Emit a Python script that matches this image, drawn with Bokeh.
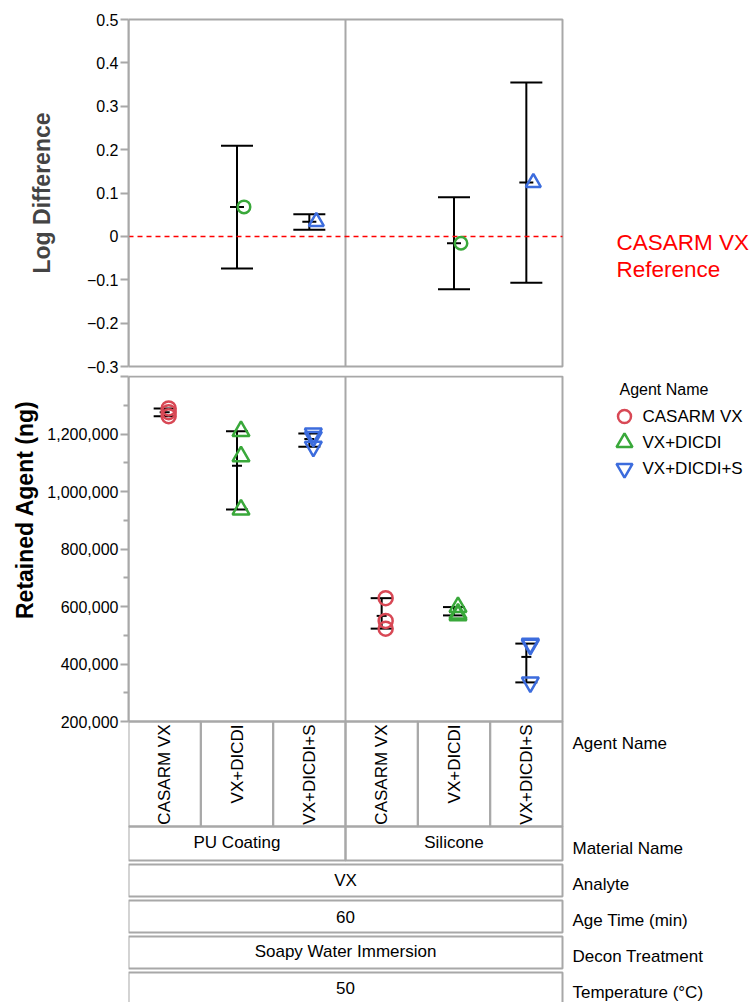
import math
import pandas as pd
from bokeh.plotting import figure
from bokeh.models import (Range1d, FixedTicker, NumeralTickFormatter, Title,
                          ColumnDataSource, Whisker, TeeHead)
from bokeh.layouts import column
from bokeh.embed import file_html
from bokeh.resources import INLINE
from bokeh.core.properties import value

# ---------------- data ----------------
materials = ["PU Coating", "Silicone"]
agents = ["CASARM VX", "VX+DICDI", "VX+DICDI+S"]
agent_colors = ["#D84855", "#39A83A", "#3C6CDD"]
agent_markers = ["circle", "triangle", "inverted_triangle"]

# top panel: log difference relative to the CASARM VX reference
ld_material = ["PU Coating", "PU Coating", "Silicone", "Silicone"]
ld_agent = ["VX+DICDI", "VX+DICDI+S", "VX+DICDI", "VX+DICDI+S"]
ld_value = [0.068, 0.034, -0.016, 0.124]
ld_lower = [-0.074, 0.015, -0.122, -0.107]
ld_upper = [0.209, 0.051, 0.090, 0.355]
ld_colors = ["#39A83A", "#3C6CDD", "#39A83A", "#3C6CDD"]
ld_markers = ["circle", "triangle", "circle", "triangle"]
ld_ticks = [-0.3, -0.2, -0.1, 0, 0.1, 0.2, 0.3, 0.4, 0.5]
reference_text = ["CASARM VX", "Reference"]

# bottom panel: retained agent (ng), three replicates per group
ra_material = ["PU Coating"] * 9 + ["Silicone"] * 9
ra_agent = (["CASARM VX"] * 3 + ["VX+DICDI"] * 3 + ["VX+DICDI+S"] * 3) * 2
ra_value = [1289000, 1276000, 1262000,
            1210000, 1122000, 937000,
            1202000, 1190000, 1156000,
            629000, 550000, 523000,
            598000, 575000, 569000,
            471000, 467000, 336000]
ra_ticks = [200000, 400000, 600000, 800000, 1000000, 1200000, 1400000]
ra_minor = [300000, 500000, 700000, 900000, 1100000, 1300000]

# header rows below the chart
row_names = ["Agent Name", "Material Name", "Analyte", "Age Time (min)",
             "Decon Treatment", "Temperature (°C)"]
analyte = ["VX"]
age_time = ["60"]
decon_treatment = ["Soapy Water Immersion"]
temperature = ["50"]

# ---------------- layout helpers ----------------
FONT = "Liberation Sans"
GRAY = "#a8a8a8"
W = 754
FL = 128                 # frame left (page x 128)
FW = 434                 # width of the data panels
NCAT = len(materials) * len(agents)
NAG = len(agents)
UNIT = FW / NCAT


def fx(page_x):
    return (page_x - FL) / UNIT


def y1(page_y):          # top figure: 0.5 at page y 19, -0.3 at page y 366
    return 0.5 - (page_y - 19) * 0.8 / 347


def y2(page_y):          # bottom figure: 1.4M at page y 376, 200k at page y 721
    return 1.4e6 - (page_y - 376) * 1.2e6 / 345


def pos(m, a):
    return materials.index(m) * NAG + agents.index(a) + 0.5


def style_yaxis(ax):
    ax.axis_line_color = GRAY
    ax.axis_line_width = 2
    ax.major_tick_line_color = GRAY
    ax.major_tick_line_width = 2
    ax.minor_tick_line_color = GRAY
    ax.minor_tick_line_width = 2
    ax.major_tick_out = 8
    ax.major_tick_in = 0
    ax.minor_tick_out = 5
    ax.minor_tick_in = 0
    ax.major_label_standoff = 2
    ax.major_label_text_font = FONT
    ax.major_label_text_font_size = "16px"
    ax.major_label_text_color = "black"


# ---------------- top figure ----------------
H1 = 375
p1 = figure(width=W, height=H1, x_range=Range1d(0, fx(W)),
            y_range=Range1d(y1(368), y1(17)),
            output_backend="svg", toolbar_location=None, x_axis_location=None,
            min_border_left=FL, min_border_right=0,
            min_border_top=17, min_border_bottom=H1 - 368)
p1.grid.visible = False
p1.outline_line_color = None
ax1 = p1.yaxis[0]
style_yaxis(ax1)
ax1.bounds = (ld_ticks[0], ld_ticks[-1])
ax1.ticker = FixedTicker(ticks=ld_ticks, minor_ticks=[])
ax1.major_label_overrides = {0: "0"}
ax1.axis_label = "Log Difference"
ax1.axis_label_text_font = FONT
ax1.axis_label_text_font_style = "bold"
ax1.axis_label_text_font_size = "23px"
ax1.axis_label_standoff = 29

# panel box, divider and reference line
p1.quad(left=[0], right=[NCAT], bottom=[ld_ticks[0]], top=[ld_ticks[-1]],
        fill_color=None, line_color=GRAY, line_width=2)
p1.segment(x0=[NAG], x1=[NAG], y0=[ld_ticks[0]], y1=[ld_ticks[-1]],
           line_color=GRAY, line_width=2)
p1.segment(x0=[0], x1=[NCAT], y0=[0], y1=[0], line_color="red", line_width=1.5,
           line_dash="5 4")

ld_x = [pos(m, a) for m, a in zip(ld_material, ld_agent)]
src1 = ColumnDataSource(dict(
    x=ld_x, xm=[x + 7 / UNIT for x in ld_x], v=ld_value, lo=ld_lower, hi=ld_upper,
    color=ld_colors, marker=ld_markers,
    size=[12.5 if mk == "circle" else 15 for mk in ld_markers]))
p1.add_layout(Whisker(source=src1, base="x", lower="lo", upper="hi",
                      line_color="black", line_width=2,
                      upper_head=TeeHead(size=32, line_color="black", line_width=2),
                      lower_head=TeeHead(size=32, line_color="black", line_width=2)))
p1.scatter(x="x", y="v", source=src1, marker="dash", size=14,
           line_color="black", line_width=2)
p1.scatter(x="xm", y="v", source=src1, marker="marker", size="size",
           line_color="color", fill_color=None, line_width=2.5)

p1.text(x=[fx(616)] * 2, y=[y1(241.5), y1(268.5)], text=reference_text,
        text_color="red", text_font=value(FONT), text_font_size="22.5px",
        text_baseline="alphabetic")

# ---------------- bottom figure (panel + header rows) ----------------
H2 = 1002 - H1   # page y 375 .. 1002
p2 = figure(width=W, height=H2, x_range=Range1d(0, fx(W)),
            y_range=Range1d(y2(1002), y2(H1)),
            output_backend="svg", toolbar_location=None, x_axis_location=None,
            min_border_left=FL, min_border_right=0, min_border_top=0, min_border_bottom=0)
p2.grid.visible = False
p2.outline_line_color = None
ax2 = p2.yaxis[0]
style_yaxis(ax2)
ax2.bounds = (ra_ticks[0], ra_ticks[-1])
ax2.ticker = FixedTicker(ticks=ra_ticks, minor_ticks=ra_minor)
ax2.formatter = NumeralTickFormatter(format="0,0")
ax2.major_label_overrides = {ra_ticks[-1]: ""}
p2.add_layout(Title(text="Retained Agent (ng)", align="right", offset=25, standoff=14,
                    text_font=FONT, text_font_style="bold", text_font_size="23px",
                    text_color="black"), "left")

# plot box and panel divider
p2.quad(left=[0], right=[NCAT], bottom=[ra_ticks[0]], top=[ra_ticks[-1]],
        fill_color=None, line_color=GRAY, line_width=2)
p2.segment(x0=[NAG], x1=[NAG], y0=[ra_ticks[0]], y1=[ra_ticks[-1]],
           line_color=GRAY, line_width=2)

df = pd.DataFrame(dict(material=ra_material, agent=ra_agent, v=ra_value))
df["x"] = [pos(m, a) for m, a in zip(df.material, df.agent)]
df["xm"] = df["x"] + 4 / UNIT
df["color"] = [agent_colors[agents.index(a)] for a in df.agent]
df["marker"] = [agent_markers[agents.index(a)] for a in df.agent]
df["size"] = [14 if mk == "circle" else 17 for mk in df.marker]
stats = df.groupby(["material", "agent"], sort=False)["v"].agg(["min", "max", "mean"]).reset_index()
stats["x"] = [pos(m, a) for m, a in zip(stats.material, stats.agent)]
src2s = ColumnDataSource(stats)
p2.add_layout(Whisker(source=src2s, base="x", lower="min", upper="max",
                      line_color="black", line_width=2,
                      upper_head=TeeHead(size=22, line_color="black", line_width=2),
                      lower_head=TeeHead(size=22, line_color="black", line_width=2)))
p2.scatter(x="x", y="mean", source=src2s, marker="dash", size=10,
           line_color="black", line_width=2)
p2.scatter(x="xm", y="v", source=ColumnDataSource(df), marker="marker", size="size",
           line_color="color", fill_color=None, line_width=2.5)

# legend
leg_y = [416, 442, 468]
p2.text(x=[fx(619)], y=[y2(389)], text=["Agent Name"], text_font=value(FONT),
        text_font_size="16px", text_baseline="middle", text_color="black")
p2.scatter(x=[fx(624)] * NAG, y=[y2(v) for v in leg_y], marker=agent_markers,
           size=[13, 16, 16], line_color=agent_colors, fill_color=None, line_width=2.5)
p2.text(x=[fx(642)] * NAG, y=[y2(v) for v in leg_y], text=agents,
        text_font=value(FONT), text_font_size="17px", text_baseline="middle",
        text_color="black")

# header rows
cells_l = list(range(NCAT))
p2.quad(left=cells_l, right=[c + 1 for c in cells_l], bottom=[y2(826)] * NCAT,
        top=[y2(721)] * NCAT, fill_color=None, line_color=GRAY, line_width=2)
p2.text(x=[c + 0.5 for c in cells_l], y=[y2(724)] * NCAT,
        text=[a for m in materials for a in agents], angle=math.pi / 2,
        text_align="right", text_baseline="middle", text_font=value(FONT),
        text_font_size="17px", text_color="black")
p2.quad(left=[i * NAG for i in range(len(materials))],
        right=[(i + 1) * NAG for i in range(len(materials))],
        bottom=[y2(860)] * len(materials), top=[y2(826)] * len(materials),
        fill_color=None, line_color=GRAY, line_width=2)
p2.text(x=[i * NAG + NAG / 2 for i in range(len(materials))], y=[y2(842)] * len(materials),
        text=materials, text_align="center", text_baseline="middle",
        text_font=value(FONT), text_font_size="17px", text_color="black")

box_tops = [864, 900, 936, 972]
box_bots = [896, 932, 968, 1020]
box_text = [analyte[0], age_time[0], decon_treatment[0], temperature[0]]
p2.quad(left=[0] * 4, right=[NCAT] * 4, bottom=[y2(b) for b in box_bots],
        top=[y2(t) for t in box_tops], fill_color=None, line_color=GRAY, line_width=2)
p2.text(x=[NCAT / 2] * 4, y=[y2(v) for v in [880, 916, 951, 987]], text=box_text,
        text_align="center", text_baseline="middle", text_font=value(FONT),
        text_font_size="17px", text_color="black")

p2.text(x=[fx(572)] * len(row_names), y=[y2(v) for v in [743, 848, 884, 920, 956, 992]],
        text=row_names, text_align="left", text_baseline="middle",
        text_font=value(FONT), text_font_size="17px", text_color="black")

layout = column(p1, p2, spacing=0)
open("out.html", "w").write(file_html(layout, INLINE))
